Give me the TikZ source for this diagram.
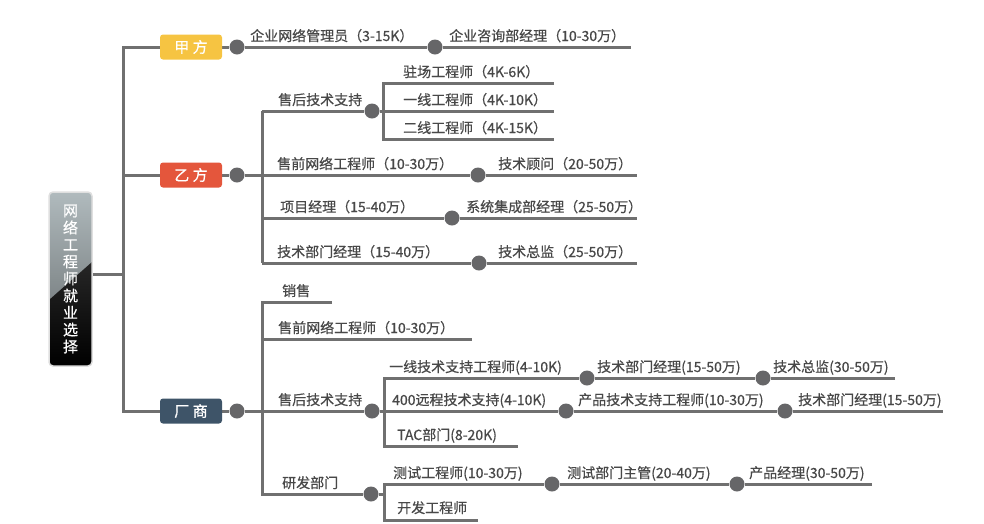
\documentclass[tikz,border=0pt]{standalone}
\usepackage{fontspec}
\setmainfont{Noto Sans CJK SC}[FakeBold=0.6]
\usepackage{tikz}
\usetikzlibrary{positioning,calc,backgrounds}
\definecolor{jiacolor}{RGB}{246,196,66}
\definecolor{yicolor}{RGB}{228,86,60}
\definecolor{changcolor}{RGB}{62,84,104}
\definecolor{linegray}{RGB}{112,112,112}
\definecolor{dotgray}{RGB}{102,102,104}
\definecolor{textgray}{RGB}{72,72,72}
\definecolor{rootgray}{RGB}{176,186,189}
\tikzset{%
  topic/.style={rectangle, rounded corners=3pt, minimum width=62pt, minimum height=25pt,
    inner sep=0pt, text=white, font=\fontsize{15}{15}\selectfont},% first level box
  jiafang/.style={topic, fill=jiacolor},
  yifang/.style={topic, fill=yicolor},
  changshang/.style={topic, fill=changcolor},
  rootbox/.style={draw=gray!25, line width=1.5pt, rounded corners=4pt, minimum width=43pt,
    minimum height=174pt, align=center, text=white, font=\fontsize{15}{17}\selectfont},
  dot/.style={circle, fill=dotgray, minimum size=15pt, inner sep=0pt},% branch point
  job/.style={anchor=base west, inner sep=0pt, text=textgray, font=\fontsize{14}{14}\selectfont},% label above a line
  branch/.style={draw=linegray, line width=3pt}
}

\begin{document}
\begin{tikzpicture}[x=1pt, y=-1pt]
\useasboundingbox (0,0) rectangle (984,523);

% root
\begin{scope}
  \clip[rounded corners=4pt] (49,192) rectangle (92,366);
  \shade[top color=rootgray, bottom color=rootgray!55!black] (49,192) rectangle (92,366);
  \shade[top color=black!85, bottom color=black] (49,300) -- (92,262) -- (92,366) -- (49,366) -- cycle;
\end{scope}
\node[rootbox] (root) at (70.5,279) {网\\络\\工\\程\\师\\就\\业\\选\\择};
\coordinate (t0) at (123,274);

\node[jiafang]    (jia)   at (191,47)  {甲 方};
\node[yifang]     (yi)    at (191,175) {乙 方};
\node[changshang] (chang) at (191,411) {厂 商};

%%%% jia fang
\node[dot] (jia0) at (237,47) {};
\node[job] (jiaA) at (250,41) {企业网络管理员（3-15K）};
\node[dot] (jia1) at (435,47) {};
\node[job] (jiaB) at (449,41) {企业咨询部经理（10-30万）};
\coordinate (jiaE) at (631,47);

%%%% yi fang
\node[dot] (yi0) at (237,175) {};
\coordinate (yiT) at (262,111);
\coordinate (yiC) at (262,218);
\coordinate (yiB) at (262,263);
\node[job] (yiA) at (278,105) {售后技术支持};
\node[dot] (yi1) at (372,111) {};
\coordinate (shT) at (383,83);
\coordinate (shB) at (383,139);
\coordinate (sh1) at (554,83);
\coordinate (sh2) at (554,111);
\coordinate (sh3) at (554,139);
\node[job] (shA) at (403,77)  {驻场工程师（4K-6K）};
\node[job] (shB1) at (403,105) {一线工程师（4K-10K）};
\node[job] (shC) at (403,133) {二线工程师（4K-15K）};
\node[job] (yiD) at (277,169) {售前网络工程师（10-30万）};
\node[dot] (yi2) at (478,175) {};
\node[job] (yiE) at (498,169) {技术顾问（20-50万）};
\coordinate (yi2e) at (637,175);
\node[job] (yiF) at (280,212) {项目经理（15-40万）};
\node[dot] (yi3) at (452,218) {};
\node[job] (yiG) at (466,212) {系统集成部经理（25-50万）};
\coordinate (yi3e) at (637,218);
\node[job] (yiH) at (277,257) {技术部门经理（15-40万）};
\node[dot] (yi4) at (479,263) {};
\node[job] (yiI) at (498,257) {技术总监（25-50万）};
\coordinate (yi4e) at (637,263);

%%%% chang shang
\node[dot] (ch0) at (237,411) {};
\coordinate (chT) at (262,302);
\coordinate (chP) at (262,339);
\coordinate (chB) at (262,494);
\node[job] (chA) at (282,296) {销售};
\coordinate (chAe) at (332,302);
\node[job] (chD) at (278,333) {售前网络工程师（10-30万）};
\coordinate (chDe) at (472,339);
\node[job] (chE) at (278,405) {售后技术支持};
\node[dot] (ch1) at (372,411) {};
\coordinate (hsT) at (384,378);
\coordinate (hsB) at (384,446);
\node[job] (hs1) at (389,372) {一线技术支持工程师(4-10K)};
\node[dot] (hs1a) at (587,378) {};
\node[job] (hs1b) at (597,372) {技术部门经理(15-50万)};
\node[dot] (hs1c) at (763,378) {};
\node[job] (hs1d) at (773,372) {技术总监(30-50万)};
\coordinate (hs1e) at (895,378);
\node[job] (hs2) at (392,405) {400远程技术支持(4-10K)};
\node[dot] (hs2a) at (566,411) {};
\node[job] (hs2b) at (578,405) {产品技术支持工程师(10-30万)};
\node[dot] (hs2c) at (785,411) {};
\node[job] (hs2d) at (798,405) {技术部门经理(15-50万)};
\coordinate (hs2e) at (943,411);
\node[job] (hs3) at (397,440) {TAC部门(8-20K)};
\coordinate (hs3e) at (518,446);
\node[job] (chF) at (282,488) {研发部门};
\node[dot] (ch2) at (371,494) {};
\coordinate (rdT) at (384,484);
\coordinate (rdB) at (384,520);
\coordinate (rdM) at (384,494);
\node[job] (rd1) at (393,478) {测试工程师(10-30万)};
\node[dot] (rd1a) at (552,484) {};
\node[job] (rd1b) at (567,478) {测试部门主管(20-40万)};
\node[dot] (rd1c) at (737,484) {};
\node[job] (rd1d) at (749,478) {产品经理(30-50万)};
\coordinate (rd1e) at (872,484);
\node[job] (rd2) at (397,513) {开发工程师};
\coordinate (rd2e) at (478,520);

%%%% connectors
\begin{scope}[on background layer]
\draw[branch] (root.east |- t0) -- (t0);
\draw[branch] (jia) -| (t0) |- (chang);
\draw[branch] (yi) -- (yi -| t0);
\draw[branch] (jia) -- (jia0) -- (jia1) -- (jiaE);
\draw[branch] (yi) -- (yi0) -- (yi2) -- (yi2e);
\draw[branch] (yiT) -- (yiB);
\draw[branch] (yiT) -- (yi1) -- (sh2);
\draw[branch] (sh1) -| (shB) -- (sh3);
\draw[branch] (yiC) -- (yi3) -- (yi3e);
\draw[branch] (yiB) -- (yi4) -- (yi4e);
\draw[branch] (chang) -- (ch0) -- (ch1) -- (hs2a) -- (hs2c) -- (hs2e);
\draw[branch] (chAe) -| (chB) -- (ch2) -- (rdM);
\draw[branch] (chP) -- (chDe);
\draw[branch] (hs1e) -- (hs1c) -- (hs1a) -| (hsB) -- (hs3e);
\draw[branch] (rd1e) -- (rd1c) -- (rd1a) -| (rdB) -- (rd2e);
\end{scope}
\end{tikzpicture}
\end{document}
